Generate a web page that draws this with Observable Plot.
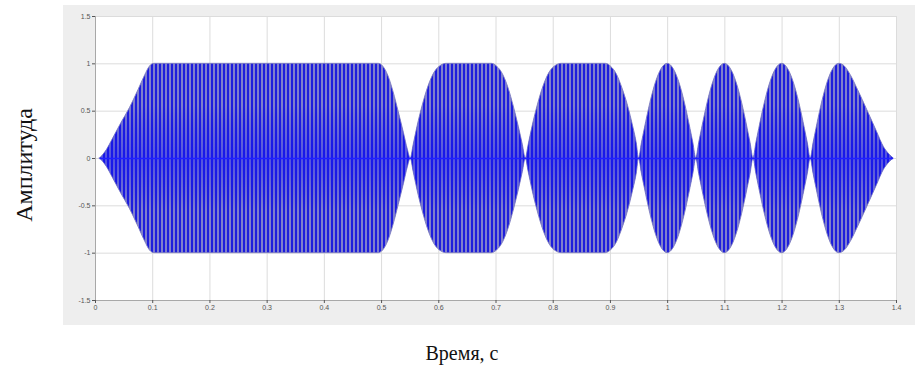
<!DOCTYPE html>
<html><head><meta charset="utf-8">
<script src="https://cdn.jsdelivr.net/npm/d3@7"></script>
<script src="https://cdn.jsdelivr.net/npm/@observablehq/plot@0.6"></script>
<style>
html,body{margin:0;padding:0;background:#fff;}
#page{position:relative;width:921px;height:366px;overflow:hidden;background:#fff;}
#chart{position:absolute;left:63px;top:5px;}
.lbl{position:absolute;font-family:"Liberation Serif","Times New Roman",serif;color:#111;white-space:nowrap;transform:translate(-50%,-50%);}
#ylabel{left:24px;top:165px;font-size:24px;transform:translate(-50%,-50%) rotate(-90deg);}
#xlabel{left:462px;top:353px;font-size:20px;}
</style></head><body>
<svg width="0" height="0" style="position:absolute">
  <defs>
    <pattern id="carrier" patternUnits="userSpaceOnUse" width="4" height="8">
      <rect width="4" height="8" fill="#7f7fcc"/>
      <rect width="2" height="8" fill="#1e1edc"/>
    </pattern>
    <linearGradient id="core" x1="0" y1="0" x2="0" y2="1">
      <stop offset="0" stop-color="#0000ff" stop-opacity="0"/>
      <stop offset="0.22" stop-color="#0000ff" stop-opacity="0"/>
      <stop offset="0.5" stop-color="#1010ff" stop-opacity="0.4"/>
      <stop offset="0.78" stop-color="#0000ff" stop-opacity="0"/>
      <stop offset="1" stop-color="#0000ff" stop-opacity="0"/>
    </linearGradient>
  </defs>
</svg>
<div id="page">
  <div id="chart"></div>
  <div id="ylabel" class="lbl">Амплитуда</div>
  <div id="xlabel" class="lbl">Время, с</div>
</div>
<script>
// Envelope of the signal (time in s, amplitude)
const envelopeTime = [
  0.008, 0.02, 0.03, 0.045, 0.06, 0.075, 0.087, 0.095, 0.103,
  0.495, 0.503, 0.512, 0.521, 0.53, 0.539, 0.546, 0.551,
  0.556, 0.563, 0.572, 0.582, 0.593, 0.604, 0.614,
  0.693, 0.702, 0.712, 0.722, 0.731, 0.74, 0.747, 0.752,
  0.757, 0.764, 0.773, 0.783, 0.794, 0.805, 0.815,
  0.892, 0.901, 0.911, 0.921, 0.931, 0.94, 0.946, 0.95,
  0.955, 0.96, 0.97, 0.98, 0.99, 1.0, 1.01, 1.02, 1.03, 1.04, 1.045, 1.05,
  1.055, 1.06, 1.07, 1.08, 1.09, 1.1, 1.11, 1.12, 1.13, 1.14, 1.145, 1.15,
  1.155, 1.16, 1.17, 1.18, 1.19, 1.2, 1.21, 1.22, 1.23, 1.24, 1.245, 1.25,
  1.255, 1.26, 1.27, 1.28, 1.29, 1.3, 1.31, 1.32, 1.333, 1.349, 1.366, 1.378, 1.388, 1.395
];
const envelopeAmp = [
  0, 0.09, 0.2, 0.37, 0.53, 0.72, 0.88, 0.97, 1,
  1, 0.97, 0.87, 0.7, 0.49, 0.27, 0.09, 0,
  0.14, 0.34, 0.56, 0.76, 0.91, 0.98, 1,
  1, 0.97, 0.89, 0.74, 0.55, 0.33, 0.14, 0,
  0.14, 0.34, 0.56, 0.76, 0.91, 0.98, 1,
  1, 0.97, 0.89, 0.74, 0.55, 0.33, 0.16, 0,
  0.16, 0.31, 0.59, 0.81, 0.95, 1, 0.95, 0.81, 0.59, 0.31, 0.16, 0,
  0.16, 0.31, 0.59, 0.81, 0.95, 1, 0.95, 0.81, 0.59, 0.31, 0.16, 0,
  0.16, 0.31, 0.59, 0.81, 0.95, 1, 0.95, 0.81, 0.59, 0.31, 0.16, 0,
  0.16, 0.31, 0.59, 0.81, 0.95, 1, 0.97, 0.88, 0.72, 0.51, 0.28, 0.12, 0.04, 0
];
const xTicks = [0, 0.1, 0.2, 0.3, 0.4, 0.5, 0.6, 0.7, 0.8, 0.9, 1, 1.1, 1.2, 1.3, 1.4];
const xTickLabels = ["0", "0.1", "0.2", "0.3", "0.4", "0.5", "0.6", "0.7", "0.8", "0.9", "1", "1.1", "1.2", "1.3", "1.4"];
const yTicks = [-1.5, -1, -0.5, 0, 0.5, 1, 1.5];
const yTickLabels = ["-1.5", "-1", "-0.5", "0", "0.5", "1", "1.5"];

const envelope = envelopeTime.map((t, i) => ({t, a: envelopeAmp[i]}));

const chart = Plot.plot({
  width: 852,
  height: 320,
  marginLeft: 32,
  marginRight: 19,
  marginTop: 11,
  marginBottom: 25,
  style: {background: "#eeeeee", fontFamily: "'Liberation Sans', Arial, sans-serif", color: "#555"},
  x: {domain: [0, 1.4]},
  y: {domain: [-1.5, 1.5]},
  marks: [
    Plot.frame({fill: "white", stroke: "none"}),
    Plot.gridX(xTicks, {stroke: "#dcdcdc", strokeOpacity: 1}),
    Plot.gridY(yTicks, {stroke: "#dcdcdc", strokeOpacity: 1}),
    Plot.areaY(envelope, {x: "t", y1: d => -d.a, y2: "a", curve: "monotone-x", fill: "url(#carrier)", stroke: "#7a7ac0", strokeWidth: 0.9}),
    Plot.areaY(envelope, {x: "t", y1: d => -d.a, y2: "a", curve: "monotone-x", fill: "url(#core)"}),
    Plot.ruleY([0], {x1: envelopeTime[0], x2: envelopeTime[envelopeTime.length - 1], stroke: "#2020ff", strokeWidth: 1.5}),
    Plot.ruleX([0], {stroke: "#a8a8a8"}),
    Plot.ruleY([-1.5], {stroke: "#a8a8a8"}),
    Plot.axisX(xTicks, {tickFormat: d => xTickLabels[xTicks.indexOf(d)], tickSize: 3, tickPadding: 2, fontSize: 7, label: null}),
    Plot.axisY(yTicks, {tickFormat: d => yTickLabels[yTicks.indexOf(d)], tickSize: 3, tickPadding: 2, fontSize: 7, label: null})
  ]
});
document.getElementById("chart").appendChild(chart);
</script>
</body></html>
